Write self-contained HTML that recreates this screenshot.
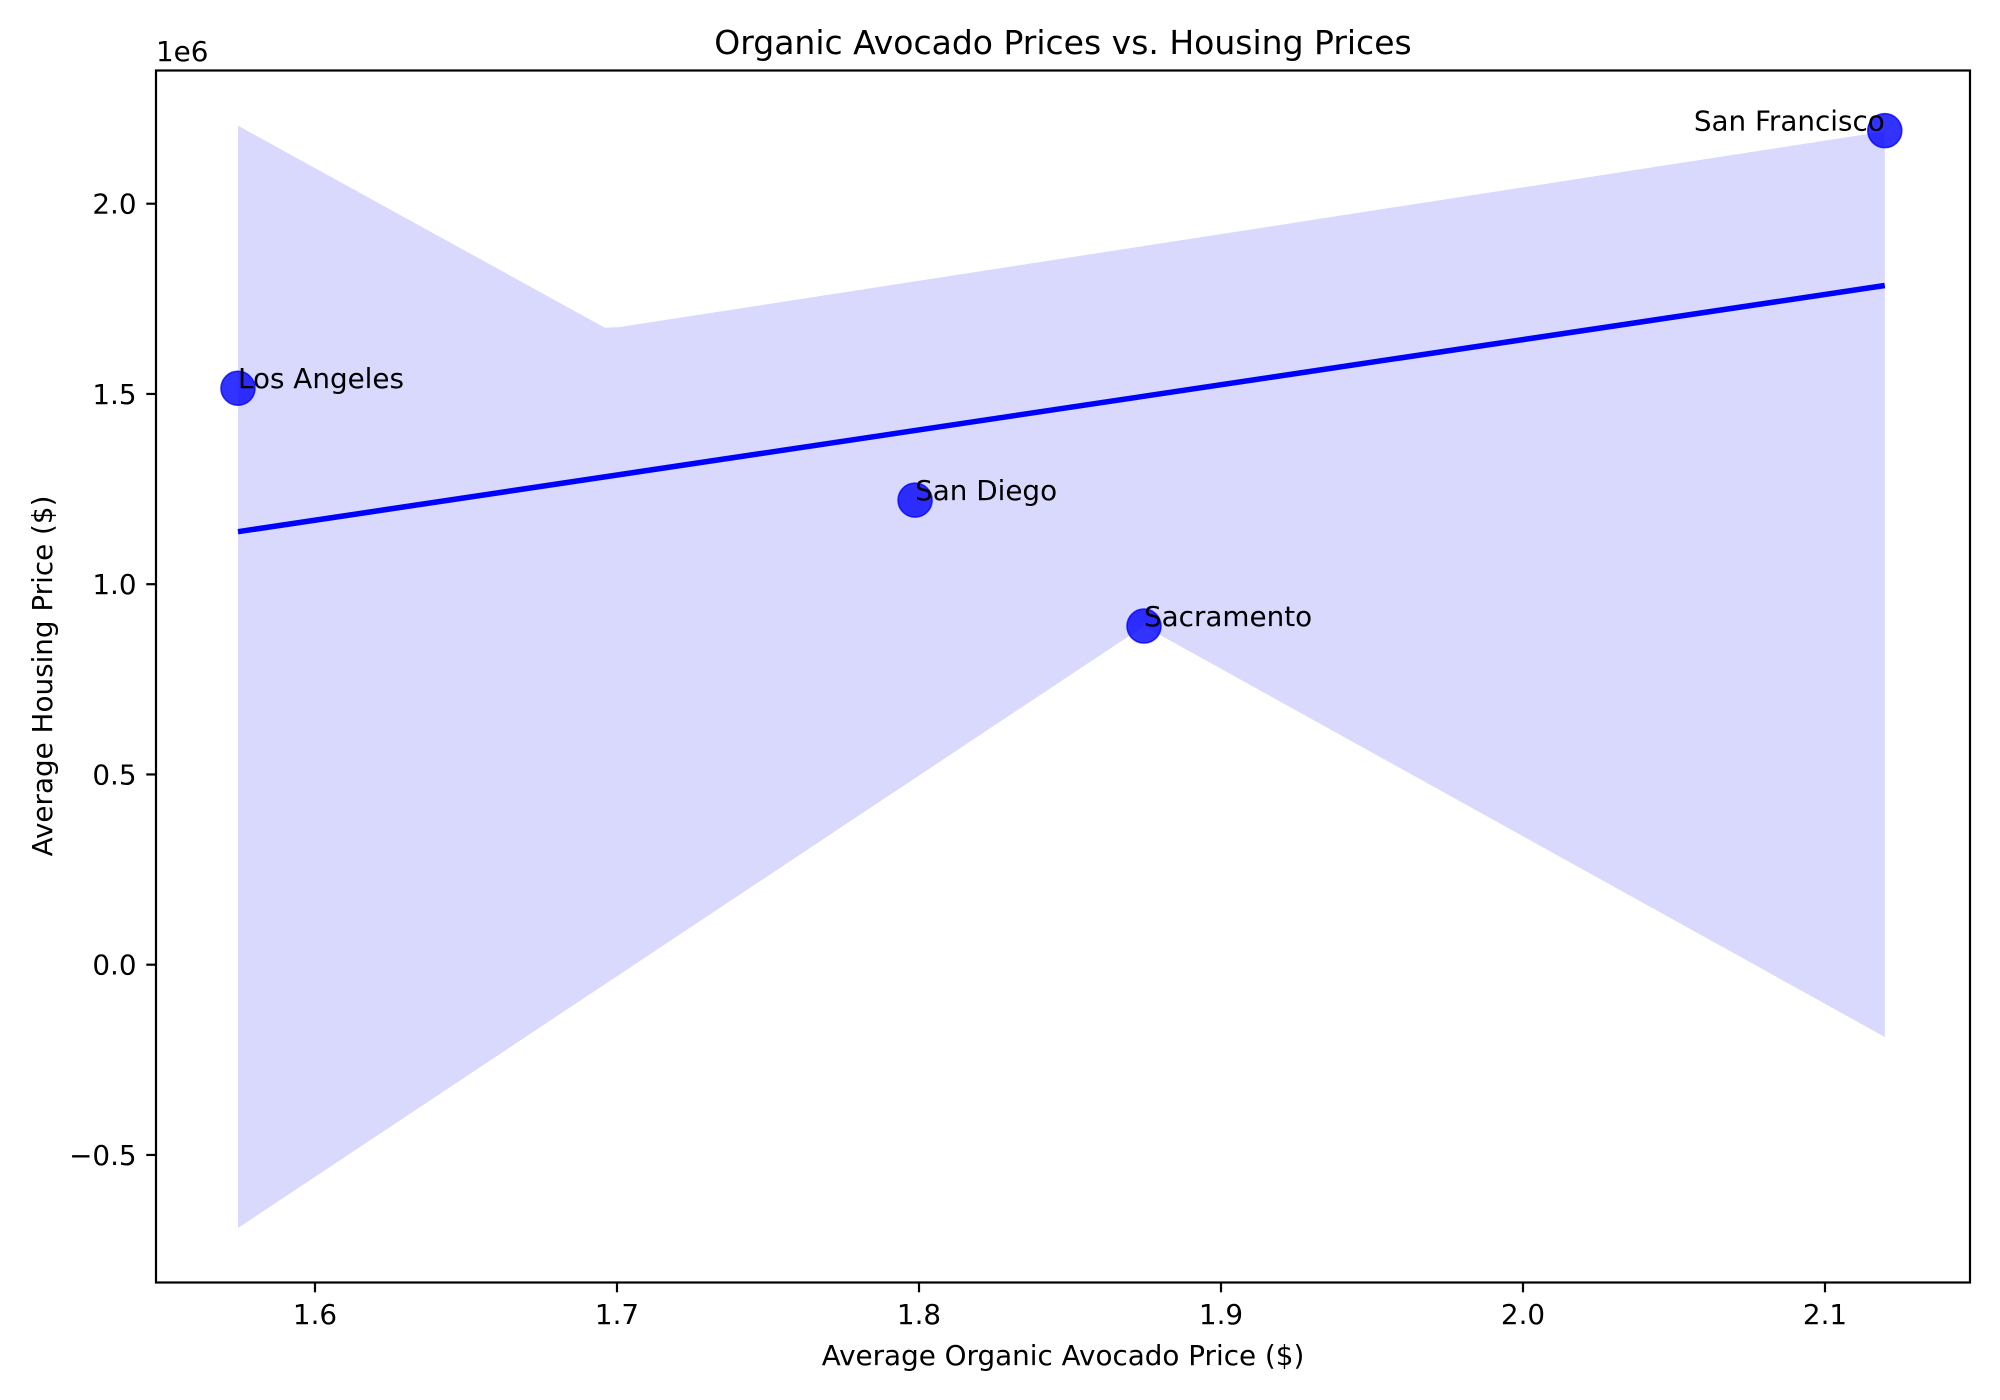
<!DOCTYPE html>
<html><head><meta charset="utf-8"><style>
html,body{margin:0;padding:0;background:#fff}
svg{display:block;font-family:"DejaVu Sans","Liberation Sans",sans-serif}
</style></head><body>
<svg id="chart" width="2000" height="1400" viewBox="0 0 2000 1400" xmlns="http://www.w3.org/2000/svg">
<rect x="0" y="0" width="2000" height="1400" fill="#fff"/>
<g id="band"></g>
<g id="fit"></g>
<g id="pts"></g>
<g id="lbls"></g>
<rect x="156" y="70.5" width="1814" height="1212" fill="none" stroke="#000" stroke-width="2.2"/>
<g id="xt"></g>
<g id="yt"></g>
<text x="1063" y="54" font-size="33" text-anchor="middle">Organic Avocado Prices vs. Housing Prices</text>
<text x="1063" y="1365" font-size="27.8" text-anchor="middle">Average Organic Avocado Price ($)</text>
<text transform="translate(52,676) rotate(-90)" font-size="27.8" text-anchor="middle">Average Housing Price ($)</text>
<text x="156" y="61" font-size="27.8">1e6</text>
</svg>
<script>
const cities = ["Los Angeles","San Diego","Sacramento","San Francisco"];
const avocadoPrice = [1.5745, 1.7987, 1.8745, 2.1198];
const housingPrice = [1.515, 1.221, 0.89, 2.192];
const fitX = [1.5745, 2.1198];
const fitY = [1.138, 1.785];
const bandUpperX = [1.5745, 1.696, 1.701, 2.1198];
const bandUpperY = [2.205, 1.674, 1.676, 2.19];
const bandLowerX = [2.1198, 1.8745, 1.5745];
const bandLowerY = [-0.19, 0.89, -0.692];
const xTicks = [1.6,1.7,1.8,1.9,2.0,2.1];
const xTickLabels = ["1.6","1.7","1.8","1.9","2.0","2.1"];
const yTicks = [-0.5,0,0.5,1.0,1.5,2.0];
const yTickLabels = ["\u22120.5","0.0","0.5","1.0","1.5","2.0"];

const NS="http://www.w3.org/2000/svg";
function X(v){return 315+(v-1.6)*3020;}
function Y(v){return 964.7-v*380.5;}
function mk(tag,parent,attrs){const e=document.createElementNS(NS,tag);for(const k in attrs)e.setAttribute(k,attrs[k]);parent.appendChild(e);return e;}

const band=document.getElementById('band');
let pts=[];
bandUpperX.forEach((x,i)=>pts.push(X(x)+','+Y(bandUpperY[i])));
bandLowerX.forEach((x,i)=>pts.push(X(x)+','+Y(bandLowerY[i])));
const poly=mk('polygon',band,{points:pts.join(' '),fill:'#d9d9fd'});



const fit=document.getElementById('fit');
const ln=mk('line',fit,{x1:X(fitX[0]),y1:Y(fitY[0]),x2:X(fitX[1]),y2:Y(fitY[1]),stroke:'#0000ff','stroke-width':5.5});



const pg=document.getElementById('pts'), lg=document.getElementById('lbls');
cities.forEach((c,i)=>{
  const cx=X(avocadoPrice[i]), cy=Y(housingPrice[i]);
  const p=mk('circle',pg,{cx:cx,cy:cy,r:17,fill:'rgba(0,0,255,0.8)',stroke:'rgba(0,0,255,0.8)','stroke-width':1.5});
  
  
  const last=i===cities.length-1;
  const t=mk('text',lg,{x:cx,y:cy,'font-size':27.8,'text-anchor':last?'end':'start'});
  t.textContent=c;
  
  
});

const xt=document.getElementById('xt');
xTicks.forEach((v,i)=>{
  const l=mk('line',xt,{x1:X(v),x2:X(v),y1:1282.6,y2:1292.3,stroke:'#000','stroke-width':2.2});
  
  
  const t=mk('text',xt,{x:X(v),y:1324,'font-size':27.8,'text-anchor':'middle'});
  t.textContent=xTickLabels[i];
  
  
});
const yt=document.getElementById('yt');
yTicks.forEach((v,i)=>{
  const l=mk('line',yt,{x1:146.3,x2:156,y1:Y(v),y2:Y(v),stroke:'#000','stroke-width':2.2});
  
  
  const t=mk('text',yt,{x:136.6,y:Y(v)+10,'font-size':27.8,'text-anchor':'end'});
  t.textContent=yTickLabels[i];
  
  
});
</script>
</body></html>
